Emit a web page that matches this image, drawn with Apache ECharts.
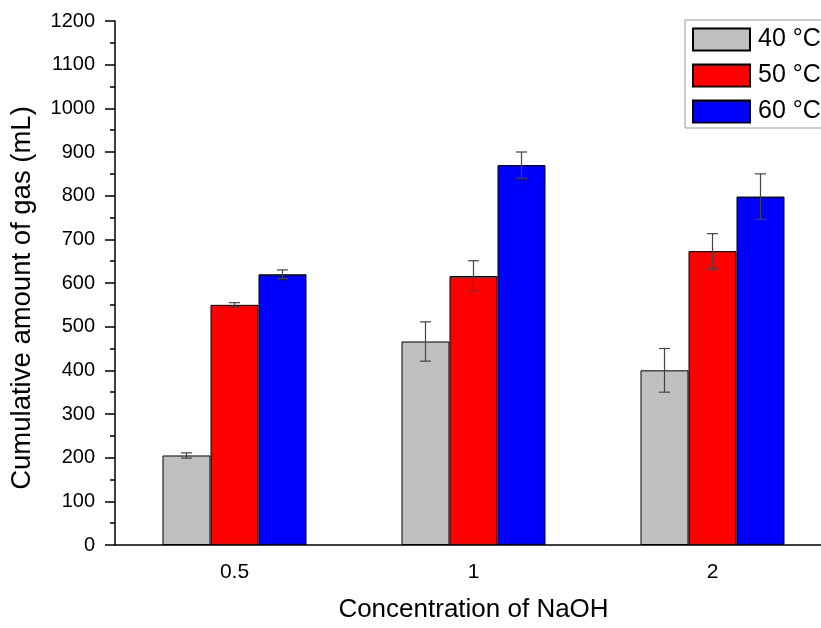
<!DOCTYPE html>
<html>
<head>
<meta charset="utf-8">
<script src="https://cdn.jsdelivr.net/npm/echarts@6/dist/echarts.min.js"></script>
<style>
  html, body { margin: 0; padding: 0; background: #fff; overflow: hidden; }
  #chart { width: 832px; height: 628px; }
</style>
</head>
<body>
<div id="chart"></div>
<script>
const categories = ["0.5", "1", "2"];
const seriesNames = ["40 \u00b0C", "50 \u00b0C", "60 \u00b0C"];
const colors = ["#c0c0c0", "#ff0000", "#0000ff"];
const gas40 = [205, 466, 400];
const gas50 = [550, 616, 673];
const gas60 = [620, 870, 798];
const err40 = [6, 45, 50];
const err50 = [5, 35, 40];
const err60 = [10, 30, 52];

const font = "Liberation Sans, Arial, sans-serif";
const barWidth = 48;

const values = [gas40, gas50, gas60];
const errors = [err40, err50, err60];

// error bar rows: [category index, low, high, series index]
const errRows = [];
values.forEach((vals, s) => {
    vals.forEach((v, i) => {
        errRows.push([i, v - errors[s][i], v + errors[s][i], s]);
    });
});

const chart = echarts.init(document.getElementById("chart"));

const barSeries = values.map((vals, s) => ({
    name: seriesNames[s],
    type: "bar",
    xAxisIndex: 0,
    data: vals,
    barWidth: barWidth,
    barGap: "0%",
    itemStyle: {
        color: colors[s],
        borderColor: "#000",
        borderWidth: 1
    },
    emphasis: {disabled: true}
}));

chart.setOption({
    animation: false,
    textStyle: {fontFamily: font},
    grid: {left: 115, top: 21, bottom: 83, right: 0},
    legend: {
        orient: "vertical",
        left: 685,
        top: 20,
        padding: [7, 60, 4, 7],
        itemWidth: 57,
        itemHeight: 22,
        itemGap: 11,
        icon: "rect",
        backgroundColor: "#fff",
        borderColor: "#999",
        borderWidth: 1,
        data: seriesNames,
        textStyle: {fontSize: 25, color: "#000", fontFamily: font, padding: [0, 0, 0, 3]}
    },
    xAxis: [
        {
            type: "category",
            data: categories,
            name: "Concentration of NaOH",
            nameLocation: "middle",
            nameGap: 52,
            nameTextStyle: {fontSize: 26, color: "#000"},
            axisLine: {lineStyle: {color: "#000", width: 1.5}},
            axisTick: {alignWithLabel: true, length: 9, lineStyle: {color: "#000", width: 1.5}},
            axisLabel: {fontSize: 21, color: "#000", margin: 17}
        },
        {
            type: "category",
            data: categories,
            position: "bottom",
            axisLine: {show: false},
            axisTick: {length: 5, lineStyle: {color: "#000", width: 1.5}},
            axisLabel: {show: false}
        }
    ],
    yAxis: {
        type: "value",
        min: 0,
        max: 1200,
        interval: 100,
        name: "Cumulative amount of gas (mL)",
        nameLocation: "middle",
        nameGap: 79,
        nameTextStyle: {fontSize: 27.5, color: "#000", padding: [0, 30, 0, 0]},
        axisLine: {show: true, lineStyle: {color: "#000", width: 1.5}},
        axisTick: {show: true, length: 10, lineStyle: {color: "#000", width: 1.5}},
        minorTick: {show: true, splitNumber: 2, length: 5, lineStyle: {color: "#000", width: 1.5}},
        splitLine: {show: false},
        axisLabel: {fontSize: 20, color: "#000", margin: 20, formatter: (v) => String(v)}
    },
    series: [
        ...barSeries,
        {
            type: "custom",
            xAxisIndex: 0,
            data: errRows,
            z: 10,
            silent: true,
            renderItem: (params, api) => {
                const i = api.value(0);
                const s = api.value(3);
                const lo = api.coord([i, api.value(1)]);
                const hi = api.coord([i, api.value(2)]);
                const x = lo[0] + (s - 1) * barWidth;
                const cap = 5.5;
                const style = {stroke: "#444", lineWidth: 1.2};
                return {
                    type: "group",
                    children: [
                        {type: "line", shape: {x1: x, y1: lo[1], x2: x, y2: hi[1]}, style: style},
                        {type: "line", shape: {x1: x - cap, y1: lo[1], x2: x + cap, y2: lo[1]}, style: style},
                        {type: "line", shape: {x1: x - cap, y1: hi[1], x2: x + cap, y2: hi[1]}, style: style}
                    ]
                };
            }
        }
    ]
});
</script>
</body>
</html>
